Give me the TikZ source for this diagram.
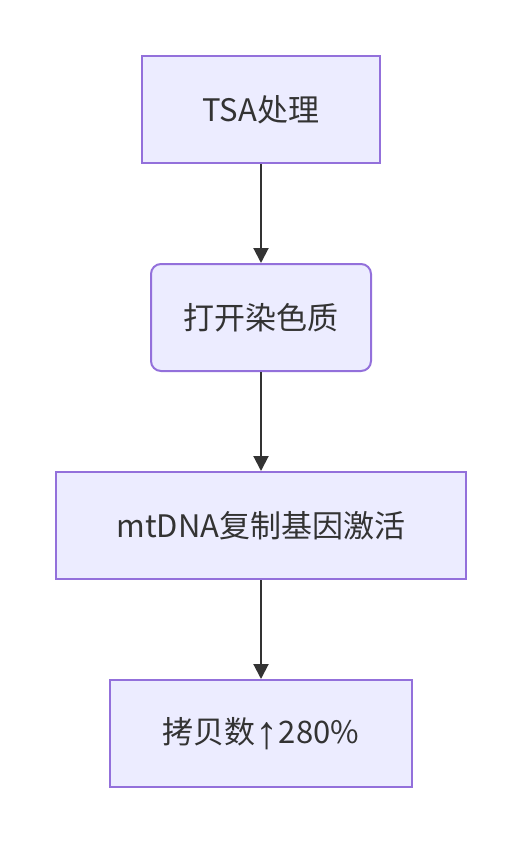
\documentclass[tikz,border=0pt]{standalone}
\usepackage{fontspec}
\usepackage{graphicx}
\setmainfont{Noto Sans CJK SC}
\newfontfamily\arrowfont{Liberation Sans}
\usetikzlibrary{arrows.meta}
\definecolor{nodefill}{HTML}{ECECFF}
\definecolor{nodeborder}{HTML}{9370DB}
\definecolor{ink}{HTML}{333333}
\newcommand{\uparrowglyph}{\raisebox{-5pt}{\resizebox{!}{26pt}{\arrowfont ↑}}}
\begin{document}
\begin{tikzpicture}[x=1pt,y=-1pt,
  box/.style={draw=nodeborder,fill=nodefill,line width=2pt,text=ink,
    font=\fontsize{31}{36}\selectfont,minimum height=107pt,inner sep=0pt,anchor=center},
  flow/.style={draw=ink,line width=2pt,-{Triangle[width=15pt,length=15pt]}}]
\useasboundingbox (0,0) rectangle (522,844);
\node[box,minimum width=238pt] (a) at (261,109.5) {TSA处理};
\node[box,minimum width=220pt,rounded corners=10pt] (b) at (261,317.5) {打开染色质};
\node[box,minimum width=410pt] (c) at (261,525.5) {mtDNA复制基因激活};
\node[box,minimum width=302pt] (d) at (261,733.5) {拷贝数\uparrowglyph 280\%};
\draw[flow] (a) -- (b);
\draw[flow] (b) -- (c);
\draw[flow] (c) -- (d);
\end{tikzpicture}
\end{document}
